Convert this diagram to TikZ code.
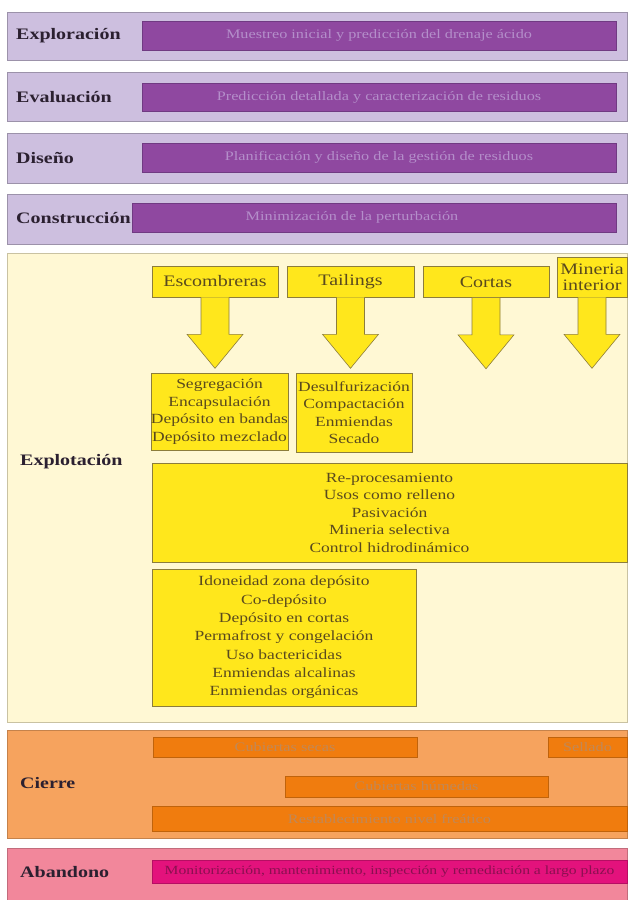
\documentclass[tikz,border=0pt]{standalone}
\usepackage{fontspec}
\setmainfont{Liberation Serif}[FakeStretch=1.25]
\usetikzlibrary{calc}
\definecolor{lav}{HTML}{CDBFDF}
\definecolor{lavline}{HTML}{9C92AA}
\definecolor{purp}{HTML}{8F48A0}
\definecolor{purpline}{HTML}{703A82}
\definecolor{purptext}{HTML}{B48ECA}
\definecolor{cream}{HTML}{FFF8D4}
\definecolor{creamline}{HTML}{C9C2A2}
\definecolor{yel}{HTML}{FFE71C}
\definecolor{yelline}{HTML}{8C7D3C}
\definecolor{yeltext}{HTML}{5A4A1E}
\definecolor{orband}{HTML}{F6A35E}
\definecolor{orbar}{HTML}{F07C0E}
\definecolor{ortext}{HTML}{C08858}
\definecolor{pkband}{HTML}{F2879B}
\definecolor{pkbar}{HTML}{E3127C}
\definecolor{pktext}{HTML}{8A1050}
\definecolor{labtext}{HTML}{2B2030}
\tikzset{
  band/.style={draw=#1, line width=0.8pt, inner sep=0pt},
  lab/.style={anchor=west, inner sep=0pt, text=labtext, font=\bfseries\fontsize{16}{19}\selectfont},
  pbar/.style={fill=purp, draw=purpline, line width=0.6pt, inner sep=0pt, text=purptext, font=\fontsize{13}{15}\selectfont},
  hdr/.style={fill=yel, draw=yelline, line width=0.6pt, inner sep=0pt, text=yeltext, font=\fontsize{16}{17}\selectfont},
  ybox/.style={fill=yel, draw=yelline, line width=0.6pt, inner sep=0pt, align=center, text=yeltext, font=\fontsize{14}{17.5}\selectfont},
  obar/.style={fill=orbar, draw=orbar!80!black, line width=0.5pt, inner sep=0pt, text=ortext, font=\fontsize{13}{15}\selectfont},
  kbar/.style={fill=pkbar, draw=pkbar!80!black, line width=0.5pt, inner sep=0pt, text=pktext, font=\fontsize{13}{15}\selectfont},
  barrow/.style={fill=yel, draw=yelline, line width=0.6pt, line join=miter}
}
\newcommand{\blockarrowfrom}[1]{%
  \draw[barrow] ($(#1.south)+(-14,0)$) -- ($(#1.south)+(-14,37)$) -- ($(#1.south)+(-28,37)$)
    -- ($(#1.south)+(0,71)$) -- ($(#1.south)+(28,37)$) -- ($(#1.south)+(14,37)$) -- ($(#1.south)+(14,0)$);}
\begin{document}
\begin{tikzpicture}[x=1pt,y=-1pt]
\useasboundingbox[fill=white] (0,0) rectangle (629,900);

% ---------- purple phases ----------
\node[band=lavline, fill=lav, minimum width=620, minimum height=48] (bExplo) at (317,36) {};
\node[band=lavline, fill=lav, minimum width=620, minimum height=49] (bEval) at (317,96.5) {};
\node[band=lavline, fill=lav, minimum width=620, minimum height=50] (bDis) at (317,158) {};
\node[band=lavline, fill=lav, minimum width=620, minimum height=50] (bCons) at (317,219) {};

\node[lab] (lExplo) at (16,36) {Exploración};
\node[lab] (lEval) at (16,97) {Evaluación};
\node[lab] (lDis) at (16,158) {Diseño};
\node[lab] (lCons) at (16,218) {Construcción};

\node[pbar, minimum width=474, minimum height=29] (pExplo) at (379,35.5) {Muestreo inicial y predicción del drenaje ácido};
\node[pbar, minimum width=474, minimum height=28] (pEval) at (379,97) {Predicción detallada y caracterización de residuos};
\node[pbar, minimum width=474, minimum height=29] (pDis) at (379,157.5) {Planificación y diseño de la gestión de residuos};
\node[pbar, minimum width=484, minimum height=29] (pCons) at (374,217.5) {};
\node[text=purptext, font=\fontsize{13}{15}\selectfont, inner sep=0pt] (tCons) at (352,217.5) {Minimización de la perturbación};

% ---------- Explotación ----------
\node[band=creamline, fill=cream, minimum width=620, minimum height=469] (bExplot) at (317,487.5) {};
\node[lab] (lExplot) at (20,462) {Explotación};

\node[hdr, minimum width=126, minimum height=31] (hEsc) at (215,281.5) {Escombreras};
\node[hdr, minimum width=127, minimum height=31] (hTail) at (350.5,281.5) {Tailings};
\node[hdr, minimum width=126, minimum height=31] (hCort) at (486,282) {Cortas};
\node[hdr, minimum width=70, minimum height=40, align=center, font=\fontsize{16}{16}\selectfont] (hMin) at (592,277) {Mineria\\interior};

\blockarrowfrom{hEsc}
\blockarrowfrom{hTail}
\blockarrowfrom{hCort}
\blockarrowfrom{hMin}

\node[ybox, minimum width=135, minimum height=77] (bSeg) at (219.5,411.5)
  {Segregación\\Encapsulación\\Depósito en bandas\\Depósito mezclado};
\node[ybox, minimum width=116, minimum height=79] (bDes) at (354,412.5)
  {Desulfurización\\Compactación\\Enmiendas\\Secado};
\node[ybox, minimum width=475, minimum height=99] (bBig) at (389.5,512.5)
  {Re-procesamiento\\Usos como relleno\\Pasivación\\Mineria selectiva\\Control hidrodinámico};
\node[ybox, minimum width=264, minimum height=137, font=\fontsize{14}{18.3}\selectfont] (bIdo) at (284,637.5)
  {Idoneidad zona depósito\\Co-depósito\\Depósito en cortas\\Permafrost y congelación\\Uso bactericidas\\Enmiendas alcalinas\\Enmiendas orgánicas};

% ---------- Cierre ----------
\node[band=orband!80!black, fill=orband, minimum width=620, minimum height=108] (bCierre) at (317,784) {};
\node[lab] (lCierre) at (20,783) {Cierre};
\node[obar, minimum width=264, minimum height=20] (oCS) at (285,747) {Cubiertas secas};
\node[obar, minimum width=79, minimum height=20] (oSel) at (587.5,747) {Sellado};
\node[obar, minimum width=263, minimum height=21] (oCH) at (416.5,786.5) {Cubiertas húmedas};
\node[obar, minimum width=475, minimum height=25] (oRN) at (389.5,818.5) {Restablecimiento nivel freático};

% ---------- Abandono ----------
\node[band=pkband!80!black, fill=pkband, minimum width=620, minimum height=52] (bAband) at (317,874) {};
\node[lab] (lAband) at (20,872) {Abandono};
\node[kbar, minimum width=475, minimum height=23, font=\fontsize{12.5}{14}\selectfont] (kAband) at (389.5,871.5)
  {Monitorización, mantenimiento, inspección y remediación a largo plazo};
\end{tikzpicture}
\end{document}
